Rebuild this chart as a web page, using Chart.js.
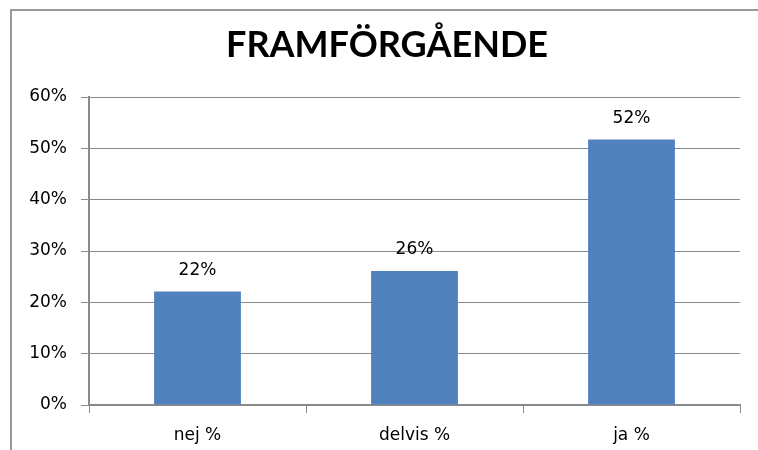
<!DOCTYPE html>
<html>
<head>
<meta charset="utf-8">
<script src="https://cdn.jsdelivr.net/npm/chart.js@4.4.0/dist/chart.umd.min.js"></script>
<style>
  body { margin: 0; background: #fff; }
  #wrap { position: relative; width: 758px; height: 450px; }
  #frame { position: absolute; left: 10px; top: 9px; right: 0; bottom: 0;
           border-top: 2px solid #9a9a9a; border-left: 2px solid #9a9a9a; }
</style>
</head>
<body>
<div id="wrap">
  <canvas id="myChart" width="758" height="450"></canvas>
  <div id="frame"></div>
</div>
<script>
var title = 'FRAMFÖRGÅENDE';
var categories = ['nej %', 'delvis %', 'ja %'];
var values = [22.1, 26.1, 51.7];
var yTicks = [0, 10, 20, 30, 40, 50, 60];

var gray = '#8a8a8a';
var labelFont = '"DejaVu Sans", sans-serif';
var titleFont = 'Lato, "Open Sans", sans-serif';

// title, drawn a bit right of the canvas centre like the original
var chartTitle = {
  id: 'chartTitle',
  afterDraw: function(chart) {
    var ctx = chart.ctx;
    ctx.save();
    ctx.fillStyle = '#000';
    ctx.font = 'bold 36px ' + titleFont;
    ctx.textAlign = 'center';
    ctx.textBaseline = 'alphabetic';
    ctx.fillText(title, 387, 57);
    ctx.restore();
  }
};

// labels above the bars
var barLabels = {
  id: 'barLabels',
  afterDatasetsDraw: function(chart) {
    var ctx = chart.ctx;
    var meta = chart.getDatasetMeta(0);
    ctx.save();
    ctx.fillStyle = '#000';
    ctx.font = '17px ' + labelFont;
    ctx.textAlign = 'center';
    ctx.textBaseline = 'middle';
    meta.data.forEach(function(bar, i) {
      ctx.fillText(Math.round(values[i]) + '%', bar.x, bar.y - 21);
    });
    ctx.restore();
  }
};

var ctx = document.getElementById('myChart').getContext('2d');
var myChart = new Chart(ctx, {
  type: 'bar',
  data: {
    labels: categories,
    datasets: [{
      data: values,
      backgroundColor: '#4f81bd',
      barPercentage: 0.4,
      categoryPercentage: 1.0
    }]
  },
  options: {
    responsive: false,
    animation: false,
    layout: { padding: { left: 0, right: 18, top: 97, bottom: 0 } },
    plugins: {
      legend: { display: false },
      tooltip: { enabled: false },
      title: { display: false }
    },
    scales: {
      x: {
        afterFit: function(s) { s.height = 45; },
        grid: { display: true, drawOnChartArea: false, offset: true, color: gray, tickLength: 8 },
        border: { color: gray, width: 2 },
        ticks: { color: '#000', font: { family: labelFont, size: 17 }, padding: 12 }
      },
      y: {
        min: 0,
        max: 60,
        afterFit: function(s) { s.width = 89; },
        afterBuildTicks: function(s) { s.ticks = yTicks.map(function(v) { return { value: v }; }); },
        grid: { color: gray, tickLength: 8 },
        border: { color: gray, width: 2 },
        ticks: {
          color: '#000',
          font: { family: labelFont, size: 17 },
          padding: 14,
          callback: function(v) { return v + '%'; }
        }
      }
    }
  },
  plugins: [barLabels, chartTitle]
});
</script>
</body>
</html>
